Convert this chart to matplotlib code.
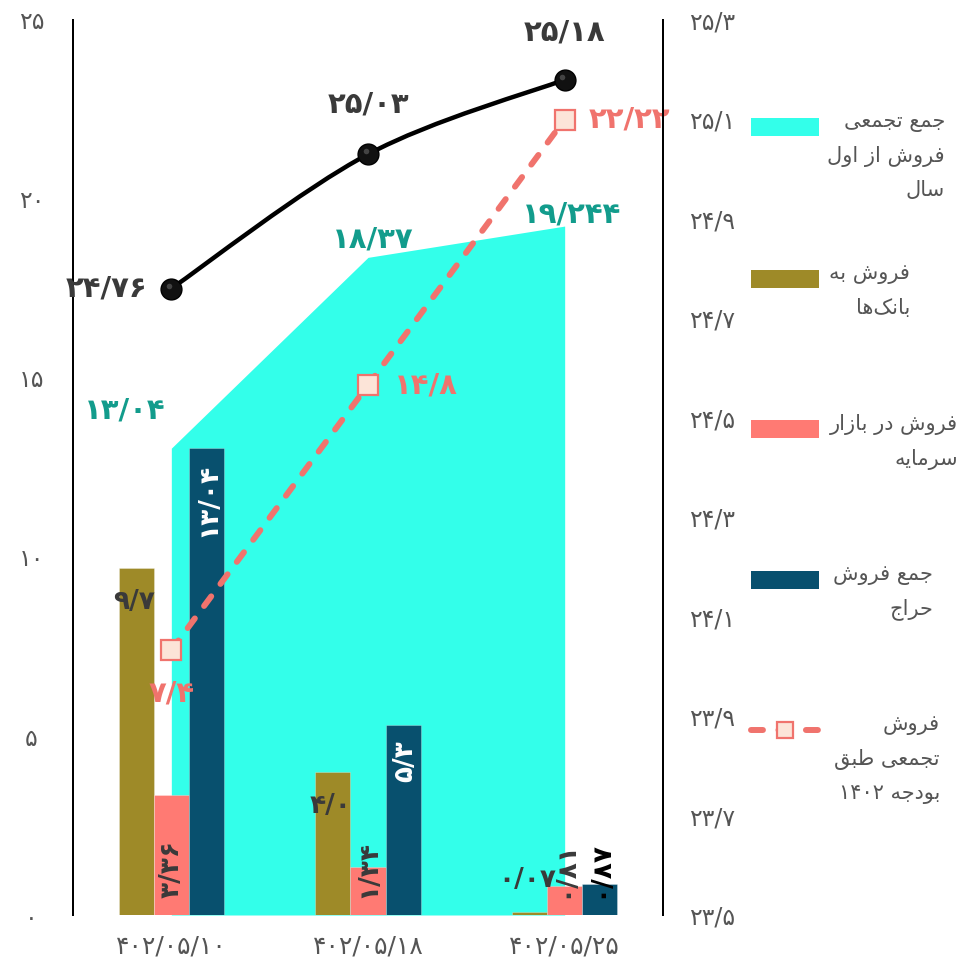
import numpy as np
import matplotlib
matplotlib.use("Agg")
import matplotlib.pyplot as plt
from matplotlib.path import Path
from matplotlib.patches import PathPatch, Rectangle
from matplotlib.lines import Line2D

# ---------------------------------------------------------------- data
dates = ["۴۰۲/۰۵/۱۰", "۴۰۲/۰۵/۱۸", "۴۰۲/۰۵/۲۵"]
cumulative_sales = [13.04, 18.37, 19.244]      # area (left axis)
bank_sales = [9.7, 4.0, 0.07]                  # bars
market_sales = [3.36, 1.34, 0.81]              # bars
auction_total = [13.04, 5.3, 0.87]             # bars
budget_cumulative = [7.4, 14.8, 22.22]         # dashed line (left axis)
rate_line = [24.76, 25.03, 25.18]              # black line (right axis)
left_ticks = [0, 5, 10, 15, 20, 25]
right_ticks = [23.5, 23.7, 23.9, 24.1, 24.3, 24.5, 24.7, 24.9, 25.1, 25.3]

legend_labels = [
    "جمع تجمعی\nفروش از اول\nسال",
    "فروش به\nبانک‌ها",
    "فروش در بازار\nسرمایه",
    "جمع فروش\nحراج",
    "فروش\nتجمعی طبق\nبودجه ۱۴۰۲",
]

# ---------------------------------------------------------------- colours
C_AREA = "#33ffea"
C_BANK = "#9e8a28"
C_MARKET = "#ff7a73"
C_AUCTION = "#08506e"
C_BUDGET = "#f0736d"
C_TEAL = "#129c8c"
C_TEXT = "#555555"
C_DARK = "#3a3a3a"

# ---------------------------------------------------------------- Persian text helpers
_FORMS = {
    "ا": ("\uFE8D", "\uFE8E", None, None),
    "ب": ("\uFE8F", "\uFE90", "\uFE91", "\uFE92"),
    "ت": ("\uFE95", "\uFE96", "\uFE97", "\uFE98"),
    "ج": ("\uFE9D", "\uFE9E", "\uFE9F", "\uFEA0"),
    "ح": ("\uFEA1", "\uFEA2", "\uFEA3", "\uFEA4"),
    "د": ("\uFEA9", "\uFEAA", None, None),
    "ر": ("\uFEAD", "\uFEAE", None, None),
    "ز": ("\uFEAF", "\uFEB0", None, None),
    "س": ("\uFEB1", "\uFEB2", "\uFEB3", "\uFEB4"),
    "ش": ("\uFEB5", "\uFEB6", "\uFEB7", "\uFEB8"),
    "ط": ("\uFEC1", "\uFEC2", "\uFEC3", "\uFEC4"),
    "ع": ("\uFEC9", "\uFECA", "\uFECB", "\uFECC"),
    "ف": ("\uFED1", "\uFED2", "\uFED3", "\uFED4"),
    "ق": ("\uFED5", "\uFED6", "\uFED7", "\uFED8"),
    "ل": ("\uFEDD", "\uFEDE", "\uFEDF", "\uFEE0"),
    "م": ("\uFEE1", "\uFEE2", "\uFEE3", "\uFEE4"),
    "ن": ("\uFEE5", "\uFEE6", "\uFEE7", "\uFEE8"),
    "ه": ("\uFEE9", "\uFEEA", "\uFEEB", "\uFEEC"),
    "و": ("\uFEED", "\uFEEE", None, None),
    "ی": ("\uFBFC", "\uFBFD", "\uFBFE", "\uFBFF"),
    "ک": ("\uFB8E", "\uFB8F", "\uFB90", "\uFB91"),
}


def _shape(word):
    out = []
    for i, ch in enumerate(word):
        f = _FORMS.get(ch)
        if f is None:
            out.append(ch)
            continue
        prev = word[i - 1] if i > 0 else None
        nxt = word[i + 1] if i < len(word) - 1 else None
        jp = prev in _FORMS and _FORMS[prev][2] is not None
        jn = f[2] is not None and nxt in _FORMS
        out.append(f[3] if (jp and jn) else f[1] if jp else f[2] if jn else f[0])
    return "".join(out).replace("\u200c", "")


def _is_letter_word(w):
    return any(ch in _FORMS for ch in w)


def rtl(text):
    lines = []
    for line in text.split("\n"):
        words = [(_shape(w)[::-1] if _is_letter_word(w) else w) for w in line.split(" ")]
        lines.append(" ".join(words[::-1]))
    return "\n".join(lines)


_DIG = str.maketrans("0123456789.", "۰۱۲۳۴۵۶۷۸۹/")


def fa(v):
    return str(v).translate(_DIG)


def fa_tick(v):
    return ("%g" % v).translate(_DIG)


plt.rcParams["font.family"] = ["DejaVu Sans"]

# ---------------------------------------------------------------- figure
W, H = 979, 964
fig = plt.figure(figsize=(W / 100, H / 100), dpi=100)
ax = fig.add_axes([73 / W, 49 / H, 590 / W, 895 / H])
ax2 = ax.twinx()

x = np.arange(len(dates))
bw = 0.178

# cumulative area
ax.fill_between(x, 0, cumulative_sales, color=C_AREA, lw=0, zorder=1)

# grouped bars
ax.bar(x - bw, bank_sales, bw, color=C_BANK, zorder=2, edgecolor="#ffffff55", lw=0.6)
ax.bar(x, market_sales, bw, color=C_MARKET, zorder=2, edgecolor="#ffffff55", lw=0.6)
ax.bar(x + bw, auction_total, bw, color=C_AUCTION, zorder=2, edgecolor="#ffffff55", lw=0.6)

# budget dashed line
ax.plot(x, budget_cumulative, color=C_BUDGET, lw=4.3, ls=(0, (2.0, 2.6)),
        dash_capstyle="round", zorder=4)
ax.plot(x, budget_cumulative, ls="none", marker="s", ms=15, mfc="#fce4d8",
        mec=C_BUDGET, mew=1.6, zorder=5)

# smooth rate line (Catmull-Rom converted to cubic Bezier segments)
pts = np.column_stack([x, rate_line]).astype(float)
ext = np.vstack([pts[0], pts, pts[-1]])
verts = [tuple(pts[0])]
codes = [Path.MOVETO]
for i in range(1, len(ext) - 2):
    p0, p1, p2, p3 = ext[i - 1], ext[i], ext[i + 1], ext[i + 2]
    c1 = p1 + (p2 - p0) / 6.0
    c2 = p2 - (p3 - p1) / 6.0
    verts += [tuple(c1), tuple(c2), tuple(p2)]
    codes += [Path.CURVE4] * 3
ax2.add_patch(PathPatch(Path(verts, codes), fc="none", ec="black", lw=3.2, zorder=3))
ax2.plot(x, rate_line, ls="none", marker="o", ms=15, mfc="#111111", mec="black", zorder=4)
ax2.plot(x - 0.012, np.array(rate_line) + 0.006, ls="none", marker="o", ms=4,
         mfc="#666666", mec="none", alpha=0.6, zorder=5)

# ---------------------------------------------------------------- axes styling
ax.set_xlim(-0.5, 2.5)
ax.set_ylim(0, 25)
ax2.set_ylim(23.5, 25.3)
for a in (ax, ax2):
    a.spines["top"].set_visible(False)
    a.spines["bottom"].set_visible(False)
    a.spines["left"].set_linewidth(1.4)
    a.spines["right"].set_linewidth(1.4)
    a.patch.set_visible(False)

ax.set_yticks(left_ticks, [fa_tick(t) for t in left_ticks])
ax.tick_params(axis="y", length=0, pad=30, labelsize=17, labelcolor=C_TEXT)
for lab in ax.get_yticklabels():
    lab.set_horizontalalignment("center")
ax2.set_yticks(right_ticks, [fa_tick(t) for t in right_ticks])
ax2.tick_params(axis="y", length=0, pad=19, labelsize=17, labelcolor=C_TEXT)
ax.set_xticks(x, dates)
ax.tick_params(axis="x", length=0, pad=14, labelsize=18, labelcolor=C_TEXT)

# ---------------------------------------------------------------- value labels
bold = dict(fontweight="bold", textcoords="offset pixels")

area_offsets = [(-47, 38), (5, 18), (7, 12)]
for xi, v, off in zip(x, cumulative_sales, area_offsets):
    ax.annotate(fa(v), (xi, v), xytext=off, ha="center", va="center",
                color=C_TEAL, fontsize=21, zorder=6, **bold)

budget_offsets = [(0, -43, "center"), (26, 0, "left"), (24, 0, "left")]
for xi, v, (dx, dy, ha) in zip(x, budget_cumulative, budget_offsets):
    ax.annotate(fa(v), (xi, v), xytext=(dx, dy), ha=ha, va="center",
                color=C_BUDGET, fontsize=21, zorder=6, **bold)

rate_offsets = [(-24, 0, "right"), (0, 50, "center"), (0, 47, "center")]
for xi, v, (dx, dy, ha) in zip(x, rate_line, rate_offsets):
    ax2.annotate(fa(v), (xi, v), xytext=(dx, dy), ha=ha, va="center",
                 color=C_DARK, fontsize=21, zorder=6, **bold)

for xi, v in zip(x, bank_sales):
    dy = -34 if v > 2 else 32
    ax.annotate(fa(v), (xi - bw, v), xytext=(-2, dy), ha="center", va="center",
                color=C_DARK, fontsize=19, zorder=6, **bold)

for xi, v in zip(x, market_sales):
    ax.annotate(fa(v), (xi, 0), xytext=(0, 17), ha="center", va="bottom",
                rotation=90, color=C_DARK, fontsize=19, zorder=6, **bold)

for xi, v in zip(x, auction_total):
    if v > 2:
        ax.annotate(fa(v), (xi + bw, v), xytext=(2, -15), ha="center", va="top",
                    rotation=90, color="white", fontsize=19, zorder=6, **bold)
    else:
        ax.annotate(fa(v), (xi + bw, 0), xytext=(0, 17), ha="center", va="bottom",
                    rotation=90, color="black", fontsize=19, zorder=6, **bold)

# ---------------------------------------------------------------- legend
def fx(px):
    return px / W


def fy(py):
    return 1 - py / H


legend_rows = [
    (127, C_AREA, 945, "patch"),
    (279, C_BANK, 910, "patch"),
    (429, C_MARKET, 958, "patch"),
    (580, C_AUCTION, 933, "patch"),
    (730, C_BUDGET, 940, "line"),
]
for (yc, col, xr, kind), label in zip(legend_rows, legend_labels):
    if kind == "patch":
        fig.add_artist(Rectangle((fx(751), fy(yc + 9)), fx(68), 18 / H,
                                 transform=fig.transFigure, color=col, lw=0))
    else:
        fig.add_artist(Line2D([fx(751), fx(818)], [fy(yc)] * 2, color=col, lw=4.3,
                              ls=(0, (2.0, 2.6)), dash_capstyle="round",
                              transform=fig.transFigure))
        fig.add_artist(Line2D([fx(785)], [fy(yc)], marker="s", ms=12, mfc="#fce4d8",
                              mec=col, mew=1.6, transform=fig.transFigure))
    fig.text(fx(xr), fy(yc - 15), rtl(label), ha="right", va="top",
             multialignment="right", fontsize=15, color=C_TEXT, linespacing=1.85)

fig.savefig("out.png", dpi=100)
